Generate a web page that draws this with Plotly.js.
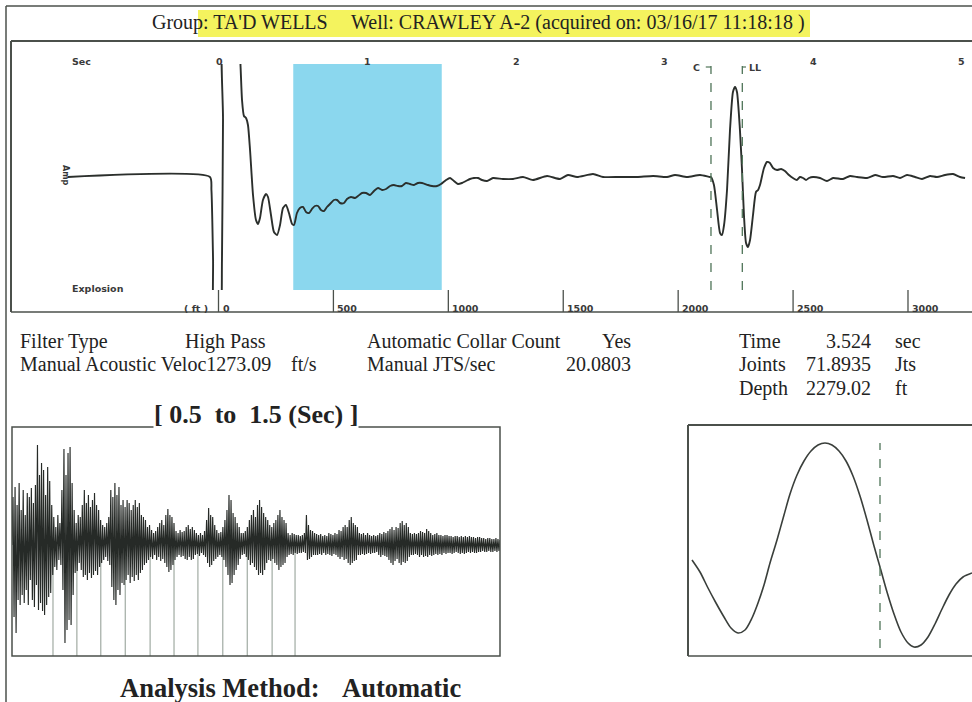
<!DOCTYPE html>
<html><head><meta charset="utf-8">
<script src="https://cdn.plot.ly/plotly-3.0.1.min.js"></script>
<style>html,body{margin:0;padding:0;background:#fff;}#chart{width:972px;height:702px;}</style>
</head><body><div id="chart"></div>
<script>
// ---------- DATA ----------
// Acoustic trace (time in seconds, amplitude in relative units)
const traceTime = [-1.017,-0.061,-0.051,-0.040,-0.034,0.007,0.020,0.027,0.034,0.128,0.145,0.155,0.168,0.182,0.195,0.209,0.229,0.249,0.263,0.276,0.296,0.317,0.330,0.350,0.370,0.391,0.411,0.431,0.451,0.471,0.492,0.505,0.525,0.545,0.566,0.586,0.606,0.626,0.646,0.667,0.687,0.707,0.727,0.754,0.774,0.795,0.815,0.842,0.862,0.889,0.916,0.936,0.963,0.990,1.017,1.044,1.071,1.098,1.125,1.152,1.178,1.205,1.232,1.259,1.286,1.313,1.340,1.367,1.407,1.434,1.468,1.495,1.529,1.556,1.582,1.609,1.636,1.663,1.690,1.717,1.744,1.771,1.805,1.845,1.912,1.980,2.047,2.114,2.209,2.296,2.350,2.411,2.519,2.586,2.700,2.815,2.923,3.017,3.071,3.152,3.239,3.306,3.313,3.333,3.354,3.374,3.387,3.401,3.421,3.441,3.461,3.475,3.488,3.508,3.522,3.535,3.549,3.562,3.576,3.596,3.616,3.630,3.643,3.670,3.690,3.710,3.731,3.758,3.785,3.811,3.838,3.865,3.892,3.912,3.933,3.953,3.973,4.000,4.047,4.094,4.135,4.202,4.249,4.296,4.364,4.418,4.471,4.539,4.586,4.633,4.687,4.734,4.788,4.835,4.889,4.943,4.990,5.024];
const traceAmp = [0,0,-0.13,-0.83,-1.43,-1.53,-0.83,0.57,1.57,1.57,1.11,0.77,0.61,0.59,0.52,0.27,-0.18,-0.43,-0.47,-0.41,-0.23,-0.17,-0.20,-0.38,-0.55,-0.58,-0.48,-0.31,-0.28,-0.36,-0.47,-0.48,-0.36,-0.31,-0.30,-0.35,-0.36,-0.32,-0.29,-0.29,-0.33,-0.34,-0.30,-0.26,-0.23,-0.23,-0.26,-0.26,-0.22,-0.20,-0.21,-0.19,-0.16,-0.16,-0.18,-0.14,-0.11,-0.13,-0.12,-0.09,-0.08,-0.09,-0.09,-0.06,-0.07,-0.08,-0.06,-0.06,-0.08,-0.09,-0.09,-0.07,-0.03,-0.01,-0.04,-0.07,-0.06,-0.04,-0.02,-0.01,-0.01,-0.03,-0.04,-0.01,-0.02,-0.02,0,-0.03,0.01,-0.02,0.02,0,0.03,0,0,0,0.01,0,0.02,0,0.02,0,0,-0.08,-0.33,-0.56,-0.58,-0.48,-0.13,0.47,0.85,0.90,0.85,0.47,0.07,-0.38,-0.66,-0.70,-0.63,-0.38,-0.15,-0.13,-0.08,0.09,0.15,0.14,0.09,0.07,0.08,0.06,0.02,-0.01,-0.03,0,-0.01,-0.03,-0.01,0,-0.01,-0.04,-0.01,-0.02,0.01,0,-0.01,0.02,0,0.01,-0.01,0.02,0,-0.02,0.01,0,0.02,0.03,0,-0.01];
const timeTicks = [0,1,2,3,4,5];
const depthTicks = [0,500,1000,1500,2000,2500,3000];
const windowSec = [0.5, 1.5];
const collarC = 3.313;
const collarLL = 3.524;

// Zoomed window 0.5 - 1.5 s (relative amplitude)
const zoomStart = 0.5, zoomEnd = 1.5;
const zoomAmp = [
0,48,-72,58,-88,40,-55,62,-60,35,
-50,55,-58,30,-45,52,-60,48,-35,57,
-55,42,-62,60,-40,100,-65,70,-58,82,
-66,75,-70,50,-60,78,-52,64,-48,40,
-30,28,-22,18,-25,30,-15,22,-20,55,
-45,96,-98,70,-85,92,-75,98,-80,62,
-50,35,-28,22,-26,30,-18,28,-25,40,
-32,55,-30,42,-35,50,-28,38,-33,45,
-30,52,-26,40,-30,35,-22,25,-18,20,
-15,18,-12,22,-16,28,-20,55,-42,48,
-55,62,-60,50,-45,58,-50,40,-38,45,
-40,38,-35,45,-30,42,-38,35,-32,40,
-36,45,-30,38,-35,42,-28,30,-25,28,
-20,25,-18,18,-15,20,-12,15,-14,12,
-10,14,-15,18,-12,22,-16,25,-14,20,
-18,30,-22,36,-27,30,-25,28,-20,22,
-15,14,-12,12,-10,15,-12,13,-11,14,
-14,18,-15,20,-12,16,-15,18,-14,15,
-10,12,-9,10,-11,12,-8,10,-10,14,
-12,25,-18,37,-22,30,-20,28,-16,20,
-14,15,-12,12,-10,13,-12,18,-15,25,
-22,35,-30,50,-40,45,-38,32,-30,28,
-25,22,-20,18,-14,12,-10,12,-9,14,
-12,18,-15,25,-20,30,-18,35,-22,28,
-25,40,-30,45,-28,38,-30,32,-25,28,
-18,25,-15,20,-16,18,-14,22,-18,25,
-20,30,-25,35,-22,28,-20,25,-18,22,
-12,12,-10,10,-9,12,-10,11,-8,10,
-9,10,-8,9,-8,10,-7,12,-8,30,
-15,20,-14,15,-12,14,-10,12,-10,11,
-10,10,-9,11,-10,9,-8,10,-10,9,
-9,12,-10,11,-11,10,-9,12,-10,11,
-12,15,-14,14,-12,18,-15,20,-14,18,
-18,25,-20,28,-18,22,-16,20,-15,18,
-10,12,-10,11,-9,12,-10,10,-9,12,
-8,10,-9,9,-8,10,-8,9,-7,10,
-10,12,-12,11,-10,13,-11,12,-12,14,
-15,16,-18,18,-20,15,-16,18,-14,17,
-18,22,-20,24,-17,20,-18,22,-16,18,
-12,12,-10,11,-10,12,-9,11,-10,12,
-12,14,-10,13,-12,12,-11,16,-12,14,
-10,12,-11,10,-10,11,-9,12,-10,10,
-9,10,-10,9,-8,10,-9,10,-8,9,
-8,9,-9,8,-8,9,-7,9,-8,8,
-9,9,-8,8,-9,9,-8,8,-7,9,
-8,8,-7,8,-8,7,-8,8,-7,8,
-7,7,-6,7,-7,6,-7,7,-6,7,
-7,6,-7,6,-6,7,-7,6,-6,5];
const collarTimes = [0.584,0.633,0.682,0.732,0.783,0.832,0.881,0.932,0.982,1.033,1.080];

// Collar detail window
const phaseLag = [4,12,20,28,36,43,50,57,64,70,76,82,89,96,102,109,116,123,130,137,144,151,158,165,172,179,186,192,199,206,213,220,226,233,240,247,254,261,268,275,284];
const phaseAmp = [-19.5,-31.5,-47.5,-62.5,-76.5,-87.5,-92.5,-89.5,-77.5,-62.5,-44.5,-22.5,0.5,25.5,46.5,65.5,79.5,89.5,95.5,97.5,95.5,89.5,79.5,64.5,44.5,20.5,-5.5,-26.5,-51.5,-73.5,-91.5,-102.5,-106.5,-104.5,-96.5,-83.5,-68.5,-54.5,-43.5,-36.5,-32.5];
const phaseMarker = 192;

// ---------- LAYOUT HELPERS ----------
const W = 972, H = 702;
const PX = x => x / W;
const PY = y => 1 - y / H;
const frameCol = '#4b504b';
const inkCol = '#2b2f2c';
const dashCol = '#4f7458';
const serif = 'Liberation Serif, Times New Roman, serif';
const sans = 'DejaVu Sans, Liberation Sans, Arial, sans-serif';
const smallFont = {family:sans, size:9.5, color:'#3a3a3a', weight:700};

const shapes = [];
const annotations = [];
function line(x0, y0, x1, y1, w, c) {
  shapes.push({type:'line', xref:'paper', yref:'paper', x0:PX(x0), y0:PY(y0), x1:PX(x1), y1:PY(y1),
    line:{color:c || frameCol, width:w || 1.5}});
}
function txt(text, x, y, size, opts) {
  annotations.push(Object.assign({text:text, xref:'paper', yref:'paper', x:PX(x), y:PY(y),
    xanchor:'left', yanchor:'middle', showarrow:false,
    font:{family:serif, size:size, color:'#222'}}, opts || {}));
}

// frames
line(6, 6, 972, 6, 1.5);
line(6, 6, 6, 702, 1.5);
line(11, 41, 972, 41, 2);
line(11, 41, 11, 312, 2);
line(11, 312, 972, 312, 1.5);
shapes.push({type:'rect', xref:'paper', yref:'paper', x0:PX(12), x1:PX(500), y0:PY(656), y1:PY(427),
  line:{color:frameCol, width:1.5}});
line(688, 425, 972, 425, 2);
line(688, 425, 688, 656, 2);
line(688, 656, 972, 656, 1.5);

// yellow highlight of header
shapes.push({type:'rect', xref:'paper', yref:'paper', x0:PX(198), x1:PX(810), y0:PY(37), y1:PY(10),
  fillcolor:'#f4f35e', line:{width:0}, layer:'below'});

// selected window (blue)
shapes.push({type:'rect', xref:'x', yref:'y', x0:windowSec[0], x1:windowSec[1], y0:-1.13, y1:1.13,
  fillcolor:'#8bd7ee', line:{width:0}, layer:'below'});

// depth ticks
depthTicks.forEach(d => {
  shapes.push({type:'line', xref:'x2', yref:'paper', x0:d, x1:d, y0:PY(312), y1:PY(290),
    line:{color:frameCol, width:1.3}});
  annotations.push({text:String(d), xref:'x2', yref:'paper', x:d, xshift:2, y:PY(308),
    xanchor:'left', yanchor:'middle', showarrow:false, font:smallFont});
});
annotations.push({text:'( ft )', xref:'paper', yref:'paper', x:PX(210), y:PY(308),
  xanchor:'right', yanchor:'middle', showarrow:false, font:smallFont});

// time tick labels
timeTicks.forEach(t => {
  annotations.push({text:String(t), xref:'x', yref:'paper', x:t, y:PY(61),
    xanchor:'center', yanchor:'middle', showarrow:false, font:smallFont});
});

// collar markers C / LL
[collarC, collarLL].forEach(t => {
  shapes.push({type:'line', xref:'x', yref:'paper', x0:t, x1:t, y0:PY(290), y1:PY(66),
    line:{color:dashCol, width:1.3, dash:'dash'}});
});
shapes.push({type:'line', xref:'x', yref:'paper', x0:collarC - 0.035, x1:collarC, y0:PY(67), y1:PY(67),
  line:{color:dashCol, width:1.2}});
shapes.push({type:'line', xref:'x', yref:'paper', x0:collarLL, x1:collarLL + 0.025, y0:PY(67), y1:PY(67),
  line:{color:dashCol, width:1.2}});
annotations.push({text:'C', xref:'x', yref:'paper', x:collarC, xshift:-9, y:PY(67),
  xanchor:'right', yanchor:'middle', showarrow:false, font:smallFont});
annotations.push({text:'LL', xref:'x', yref:'paper', x:collarLL, xshift:5, y:PY(67),
  xanchor:'left', yanchor:'middle', showarrow:false, font:smallFont});

// collar lines in zoom window
collarTimes.forEach(t => {
  shapes.push({type:'line', xref:'x3', yref:'y3', x0:t, x1:t, y0:-111, y1:0,
    line:{color:'#8e9a90', width:1}, layer:'below'});
});

// phase marker
shapes.push({type:'line', xref:'x4', yref:'y4', x0:phaseMarker, x1:phaseMarker, y0:-107.5, y1:97.5,
  line:{color:dashCol, width:1.3, dash:'dash'}});

// small labels top panel
txt('Sec', 70, 62, 9.5, {font:smallFont});
txt('Explosion', 70, 288, 9.5, {font:smallFont});
txt('Amp', 66, 175, 8, {xanchor:'center', textangle:90, font:{family:sans, size:8, color:'#333', weight:700}});

// header
txt("Group: TA'D WELLS", 150, 23, 20);
txt('Well: CRAWLEY A-2 (acquired on: 03/16/17 11:18:18 )', 349, 23, 20);

// info rows
const fs = 20;
txt('Filter Type', 18, 341, fs);
txt('High Pass', 268, 341, fs, {xanchor:'right'});
txt('Automatic Collar Count', 365, 341, fs);
txt('Yes', 633, 341, fs, {xanchor:'right'});
txt('Time', 737, 341, fs);
txt('3.524', 873, 341, fs, {xanchor:'right'});
txt('sec', 893, 341, fs);
txt('Manual Acoustic Veloc1273.09', 18, 364, fs);
txt('ft/s', 289, 364, fs);
txt('Manual JTS/sec', 365, 364, fs);
txt('20.0803', 633, 364, fs, {xanchor:'right'});
txt('Joints', 737, 364, fs);
txt('71.8935', 873, 364, fs, {xanchor:'right'});
txt('Jts', 893, 364, fs);
txt('Depth', 737, 388, fs);
txt('2279.02', 873, 388, fs, {xanchor:'right'});
txt('ft', 893, 388, fs);

txt('<b>[ 0.5  to  1.5 (Sec) ]</b>', 256, 414, 26, {xanchor:'center', bgcolor:'#ffffff', borderpad:0});
txt('<b>Analysis Method:</b>', 118, 688, 26.5);
txt('<b>Automatic</b>', 340, 688, 26.5);

// ---------- TRACES ----------
const zoomTime = zoomAmp.map((_, i) => zoomStart + i * (zoomEnd - zoomStart) / (zoomAmp.length - 1));

const data = [
  {x:traceTime, y:traceAmp, xaxis:'x', yaxis:'y', type:'scatter', mode:'lines',
   line:{color:inkCol, width:1.9, shape:'spline', smoothing:0.6}, hoverinfo:'skip'},
  {x:zoomTime, y:zoomAmp, xaxis:'x3', yaxis:'y3', type:'scatter', mode:'lines',
   line:{color:'#262a27', width:1.15}, hoverinfo:'skip'},
  {x:phaseLag, y:phaseAmp, xaxis:'x4', yaxis:'y4', type:'scatter', mode:'lines',
   line:{color:'#3a3f3b', width:1.6, shape:'spline', smoothing:0.8}, hoverinfo:'skip'}
];

const hid = {showgrid:false, zeroline:false, showline:false, showticklabels:false, ticks:'', fixedrange:true};
const layout = {
  width:W, height:H, margin:{l:0, r:0, t:0, b:0},
  paper_bgcolor:'#ffffff', plot_bgcolor:'rgba(0,0,0,0)', showlegend:false,
  xaxis: Object.assign({domain:[PX(11), 1], range:[(11-219)/148.5, (972-219)/148.5], anchor:'y'}, hid),
  yaxis: Object.assign({domain:[PY(290), PY(64)], range:[-1.13, 1.13], anchor:'x'}, hid),
  xaxis2: Object.assign({domain:[PX(11), 1], range:[(11-218.5)/0.22983, (972-218.5)/0.22983], overlaying:'x', anchor:'y'}, hid),
  xaxis3: Object.assign({domain:[PX(12), PX(500)], range:[zoomStart, zoomEnd], anchor:'y3'}, hid),
  yaxis3: Object.assign({domain:[PY(656), PY(427)], range:[-111, 118], anchor:'x3'}, hid),
  xaxis4: Object.assign({domain:[PX(688), 1], range:[0, 284], anchor:'y4'}, hid),
  yaxis4: Object.assign({domain:[PY(656), PY(425)], range:[-115.5, 115.5], anchor:'x4'}, hid),
  shapes: shapes, annotations: annotations
};
Plotly.newPlot('chart', data, layout, {staticPlot:true, displayModeBar:false});
</script></body></html>
